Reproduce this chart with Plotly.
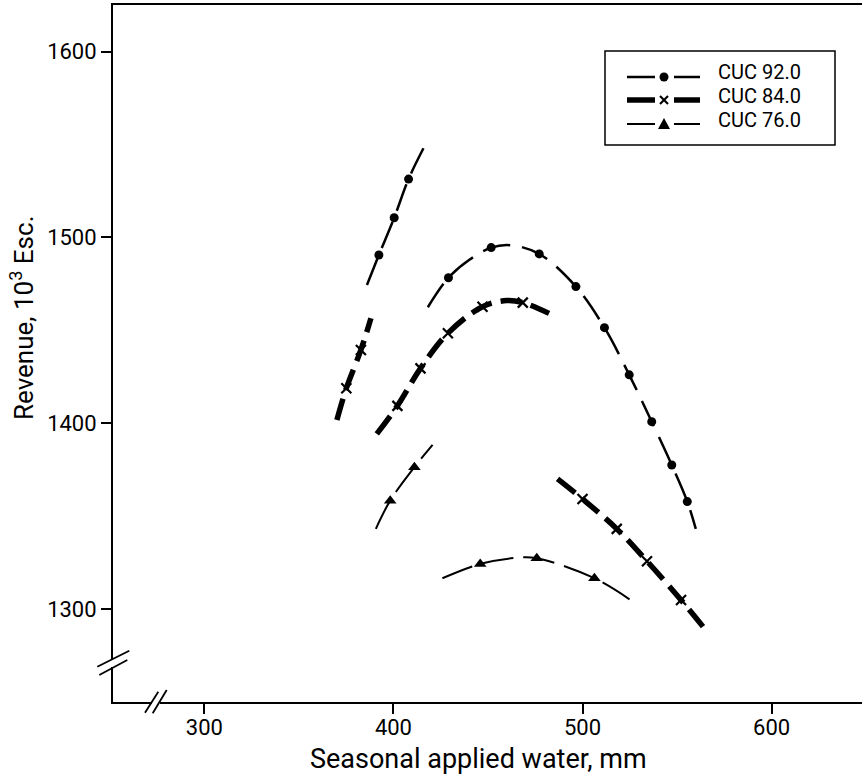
import plotly.graph_objects as go

# ---------------- data ----------------
series_names = ["CUC 92.0", "CUC 84.0", "CUC 76.0"]

# CUC 92.0 : curve segments (None separates segments) and marker points
cuc92_line_x = [386.0, 392.3, 400.4, 408.0, 415.9, None,
                418.2, 429.1, 440.0, 451.7, 462.0, 477.1, 496.5, 511.6, 524.7, 536.6, 547.2, 555.4, 559.9]
cuc92_line_y = [1474.4, 1490.5, 1510.6, 1531.4, 1548.0, None,
                1462.4, 1478.3, 1487.8, 1494.5, 1495.8, 1491.1, 1473.5, 1451.4, 1426.0, 1400.8, 1377.5, 1357.8, 1343.1]
cuc92_mark_x = [392.3, 400.4, 408.0, 429.1, 451.7, 477.1, 496.5, 511.6, 524.7, 536.6, 547.2, 555.4]
cuc92_mark_y = [1490.5, 1510.6, 1531.4, 1478.3, 1494.5, 1491.1, 1473.5, 1451.4, 1426.0, 1400.8, 1377.5, 1357.8]

# CUC 84.0
cuc84_line_x = [370.1, 375.1, 382.8, 388.1, None,
                391.2, 402.1, 414.3, 428.8, 447.1, 460.0, 468.4, 482.3, None,
                486.8, 500.0, 518.1, 534.1, 552.1, 564.4]
cuc84_line_y = [1401.7, 1418.8, 1439.4, 1456.5, None,
                1394.2, 1409.3, 1429.5, 1448.4, 1462.7, 1466.0, 1464.9, 1459.1, None,
                1370.0, 1359.2, 1343.1, 1325.7, 1304.8, 1289.6]
cuc84_mark_x = [375.1, 382.8, 402.1, 414.3, 428.8, 447.1, 468.4, 500.0, 518.1, 534.1, 552.1]
cuc84_mark_y = [1418.8, 1439.4, 1409.3, 1429.5, 1448.4, 1462.7, 1464.9, 1359.2, 1343.1, 1325.7, 1304.8]

# CUC 76.0
cuc76_line_x = [390.7, 398.3, 411.1, 420.7, None,
                425.9, 445.9, 466.0, 475.8, 506.3, 527.8]
cuc76_line_y = [1343.1, 1358.3, 1376.3, 1388.3, None,
                1316.5, 1324.2, 1327.6, 1327.3, 1316.5, 1303.1]
cuc76_mark_x = [398.3, 411.1, 445.9, 475.8, 506.3]
cuc76_mark_y = [1358.3, 1376.3, 1324.2, 1327.3, 1316.5]

x_ticks = [300, 400, 500, 600]
y_ticks = [1300, 1400, 1500, 1600]
x_range = [251.7, 647.8]
y_range = [1249.9, 1625.1]

# ---------------- styles ----------------
FONT = "Roboto"
styles = [
    dict(width=2.5, dash="28px,12px", symbol="circle", size=9, mline=0),
    dict(width=5.5, dash="22px,9px", symbol="x-thin", size=10, mline=2.2),
    dict(width=2.0, dash="32px,10px", symbol="triangle-up", size=11, mline=0),
]
lines = [(cuc92_line_x, cuc92_line_y), (cuc84_line_x, cuc84_line_y), (cuc76_line_x, cuc76_line_y)]
marks = [(cuc92_mark_x, cuc92_mark_y), (cuc84_mark_x, cuc84_mark_y), (cuc76_mark_x, cuc76_mark_y)]

fig = go.Figure()
for name, st, (lx, ly), (mx, my) in zip(series_names, styles, lines, marks):
    fig.add_trace(go.Scatter(
        x=lx, y=ly, mode="lines", name=name,
        line=dict(color="black", width=st["width"], dash=st["dash"], shape="spline"),
        connectgaps=False, showlegend=False, legendgroup=name, hoverinfo="skip"))
    fig.add_trace(go.Scatter(
        x=mx, y=my, mode="markers", name=name,
        marker=dict(color="black", symbol=st["symbol"], size=st["size"],
                    line=dict(color="black", width=st["mline"])),
        showlegend=False, legendgroup=name))

axis_common = dict(showgrid=False, zeroline=False, ticks="outside", ticklen=10, tickwidth=1.6,
                   tickcolor="black", showline=True, linecolor="black", linewidth=2, automargin=False,
                   tickfont=dict(family=FONT, size=22, color="black"))

fig.update_layout(
    width=862, height=780,
    margin=dict(l=113, r=0, t=5, b=78, autoexpand=False),
    paper_bgcolor="white", plot_bgcolor="white",
    xaxis=dict(range=x_range, tickvals=x_ticks, mirror=True, ticklabelstandoff=-5, **axis_common),
    yaxis=dict(range=y_range, tickvals=y_ticks, mirror=False, **axis_common),
    xaxis2=dict(range=x_range, tickvals=x_ticks, overlaying="x", anchor="y", side="bottom",
                ticks="inside", ticklen=10, tickwidth=1.6, tickcolor="black", showticklabels=False,
                showgrid=False, zeroline=False, showline=False, automargin=False),
    yaxis2=dict(range=y_range, tickvals=y_ticks, overlaying="y", anchor="x", side="left",
                ticks="inside", ticklen=10, tickwidth=1.6, tickcolor="black", showticklabels=False,
                showgrid=False, zeroline=False, showline=False, automargin=False),
    showlegend=False,
)

# pixel -> paper helpers for decorations
W = 862 - 113.0
H = 702 - 5.0
def px(xp):
    return (xp - 113.0) / W
def py(yp):
    return (702 - yp) / H

# axis titles
fig.add_annotation(text="Seasonal applied water, mm", xref="paper", yref="paper",
                   x=px(478), y=py(759), xanchor="center", yanchor="middle", showarrow=False,
                   font=dict(family=FONT, size=27, color="black"))
fig.add_annotation(text="Revenue, 10<sup>3</sup> Esc.", xref="paper", yref="paper",
                   x=px(22), y=py(318), xanchor="center", yanchor="middle", showarrow=False,
                   textangle=-90, font=dict(family=FONT, size=26, color="black"))

shapes = []
# gaps in axis lines + break marks
shapes.append(dict(type="line", xref="paper", yref="paper", x0=px(113), x1=px(113), y0=py(667), y1=py(659),
                   line=dict(color="white", width=4), layer="above"))
shapes.append(dict(type="line", xref="paper", yref="paper", x0=px(152), x1=px(160), y0=py(702), y1=py(702),
                   line=dict(color="white", width=4), layer="above"))
for (a, b, c, d) in [(97.3, 666.7, 129.3, 650.7), (99.3, 675.0, 127.3, 660.0),
                     (145.0, 712.7, 158.3, 691.7), (152.7, 713.3, 166.7, 690.0)]:
    shapes.append(dict(type="line", xref="paper", yref="paper", x0=px(a), y0=py(b), x1=px(c), y1=py(d),
                       line=dict(color="black", width=1.8), layer="above"))

# legend box (drawn by hand to match the original's long symbols)
shapes.append(dict(type="rect", xref="paper", yref="paper", x0=px(605), x1=px(835), y0=py(145), y1=py(51),
                   line=dict(color="black", width=1.5), fillcolor="white", layer="above"))
sym_rows = [77, 100, 124]
text_rows = [72, 96, 120]
for name, st, ys, yt in zip(series_names, styles, sym_rows, text_rows):
    for (a, b) in [(627, 655), (674, 700)]:
        shapes.append(dict(type="line", xref="paper", yref="paper", x0=px(a), x1=px(b), y0=py(ys), y1=py(ys),
                           line=dict(color="black", width=st["width"]), layer="above"))
    cx = 664
    if st["symbol"] == "circle":
        shapes.append(dict(type="circle", xref="paper", yref="paper", x0=px(cx - 4.5), x1=px(cx + 4.5),
                           y0=py(ys + 4.5), y1=py(ys - 4.5), fillcolor="black",
                           line=dict(color="black", width=0), layer="above"))
    elif st["symbol"] == "x-thin":
        for (dx, dy) in [(4, 4), (4, -4)]:
            shapes.append(dict(type="line", xref="paper", yref="paper", x0=px(cx - dx), x1=px(cx + dx),
                               y0=py(ys - dy), y1=py(ys + dy), line=dict(color="black", width=2.2),
                               layer="above"))
    else:
        path = "M {:.5f},{:.5f} L {:.5f},{:.5f} L {:.5f},{:.5f} Z".format(
            px(cx - 6), py(ys + 5), px(cx + 6), py(ys + 5), px(cx), py(ys - 6))
        shapes.append(dict(type="path", xref="paper", yref="paper", path=path, fillcolor="black",
                           line=dict(color="black", width=0), layer="above"))
    fig.add_annotation(text=name, xref="paper", yref="paper", x=px(716), y=py(yt),
                       xanchor="left", yanchor="middle", showarrow=False,
                       font=dict(family=FONT, size=20, color="black"))
fig.update_layout(shapes=shapes)

fig.write_html("out.html", config={"displayModeBar": False},
               post_script="document.body.style.margin='0';document.body.style.padding='0';")
